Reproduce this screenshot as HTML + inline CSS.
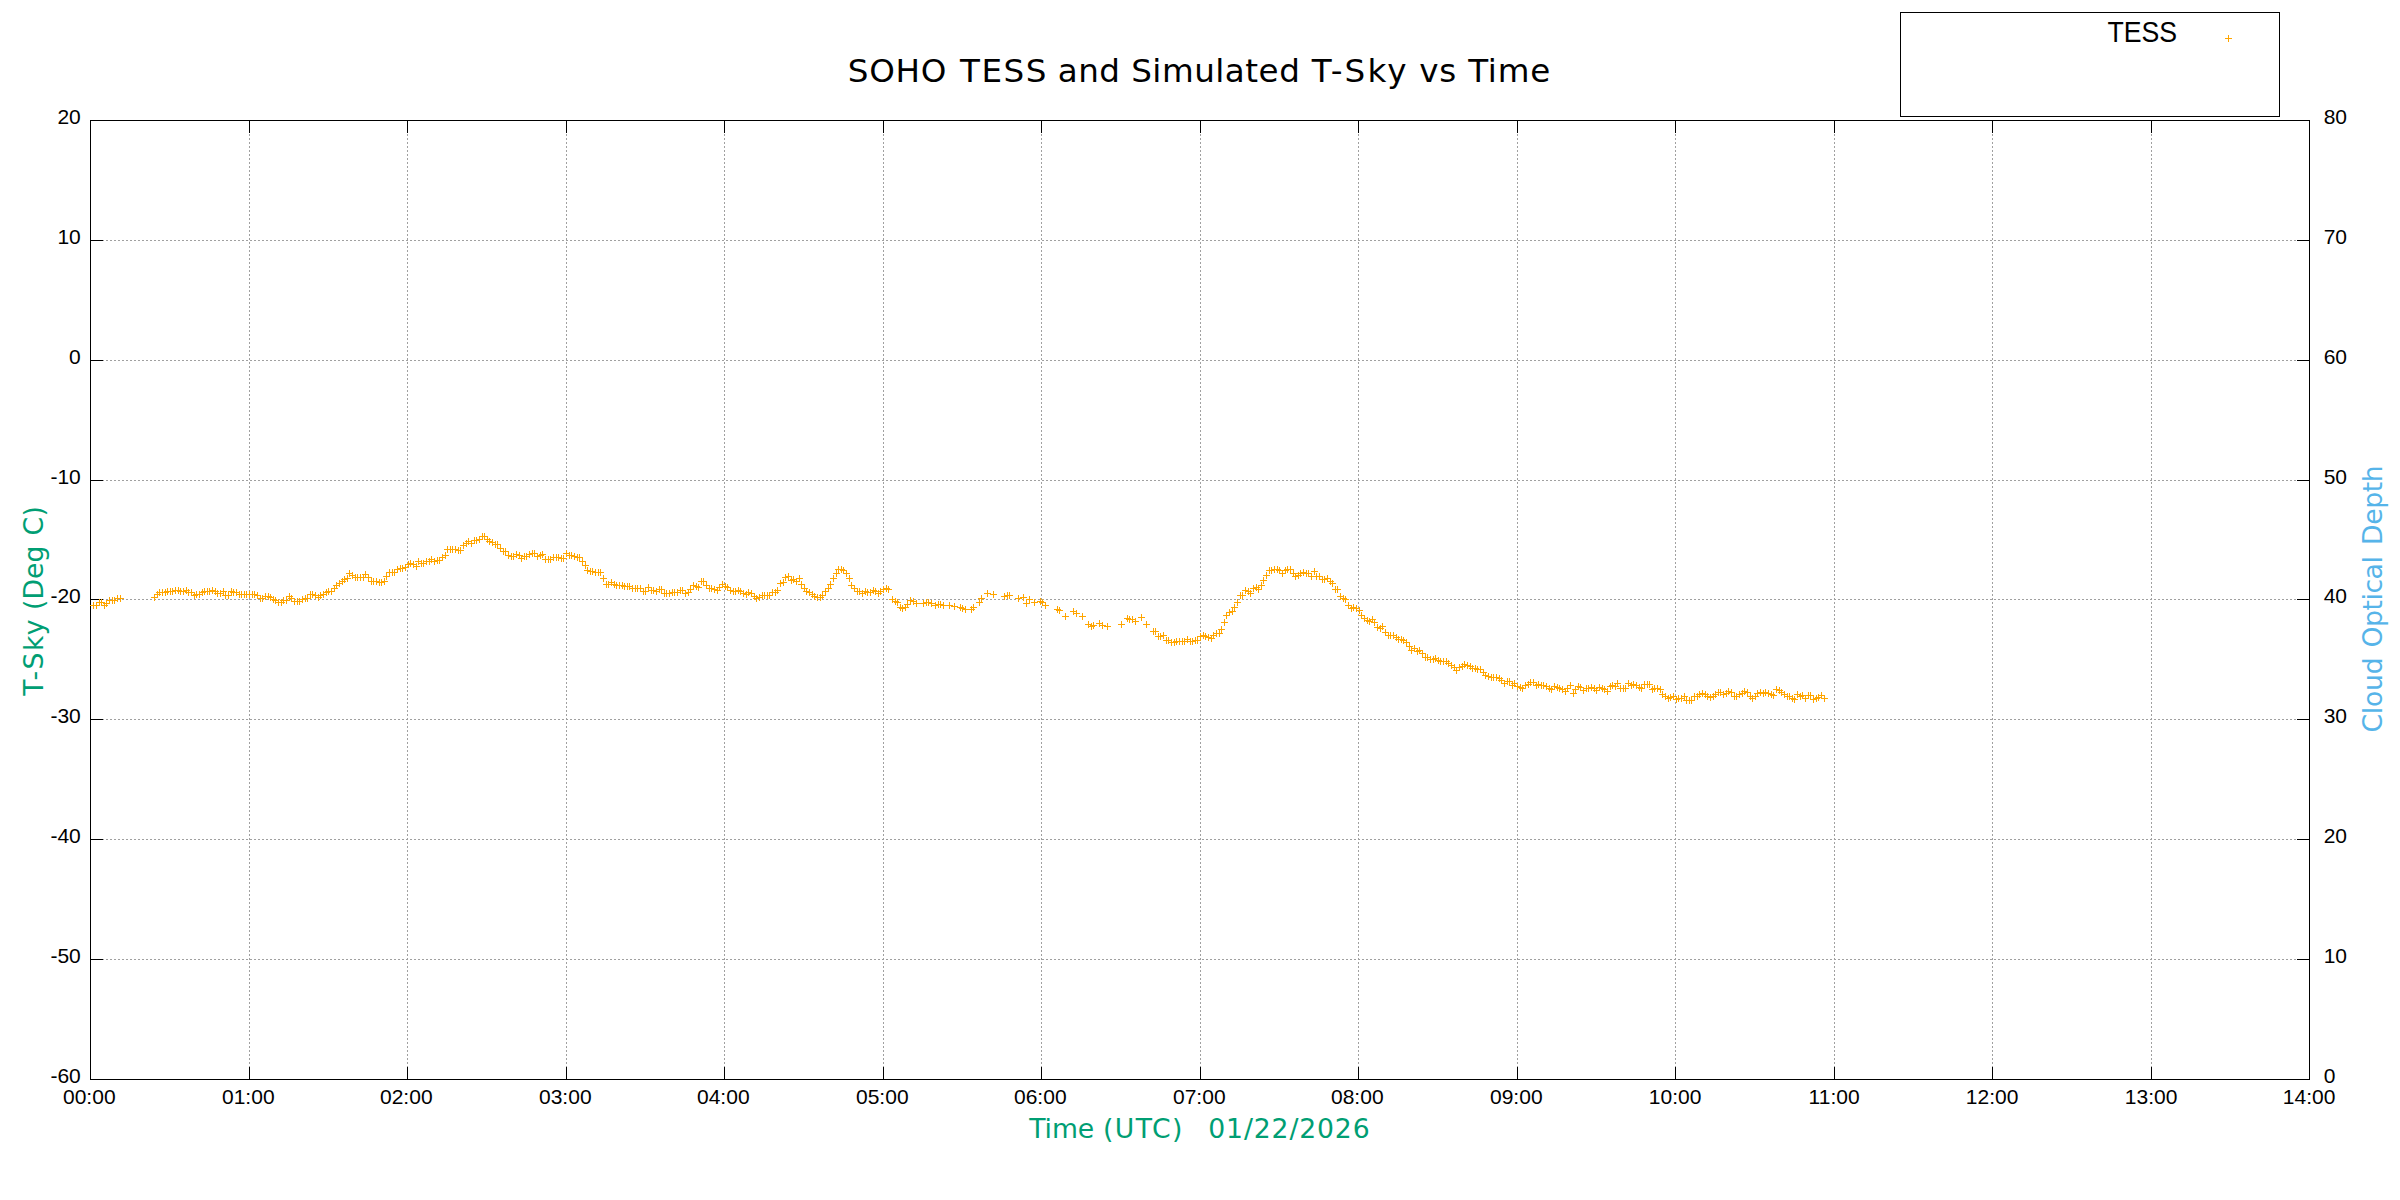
<!DOCTYPE html>
<html lang="en"><head><meta charset="utf-8"><title>SOHO TESS and Simulated T-Sky vs Time</title>
<style>
html,body{margin:0;padding:0;background:#fff;}
body{width:2400px;height:1200px;overflow:hidden;}
svg{display:block;}
.t{font-family:"Liberation Sans",Arial,sans-serif;font-size:21.0px;fill:#000;}
.v{font-family:"DejaVu Sans",Verdana,sans-serif;}
</style></head><body>
<svg width="2400" height="1200" viewBox="0 0 2400 1200">
<rect width="2400" height="1200" fill="#fff"/>
<path d="M90 240.5 H2310 M90 360.5 H2310 M90 480.5 H2310 M90 599.5 H2310 M90 719.5 H2310 M90 839.5 H2310 M90 959.5 H2310 M249.5 1080 V120 M407.5 1080 V120 M566.5 1080 V120 M724.5 1080 V120 M883.5 1080 V120 M1041.5 1080 V120 M1200.5 1080 V120 M1358.5 1080 V120 M1517.5 1080 V120 M1675.5 1080 V120 M1834.5 1080 V120 M1992.5 1080 V120 M2151.5 1080 V120" fill="none" stroke="#a0a0a0" stroke-width="1" stroke-dasharray="2 2" shape-rendering="crispEdges"/>
<path d="M90 240.5 h13 M2310 240.5 h-13 M90 360.5 h13 M2310 360.5 h-13 M90 480.5 h13 M2310 480.5 h-13 M90 599.5 h13 M2310 599.5 h-13 M90 719.5 h13 M2310 719.5 h-13 M90 839.5 h13 M2310 839.5 h-13 M90 959.5 h13 M2310 959.5 h-13 M249.5 120 v13 M249.5 1080 v-13 M407.5 120 v13 M407.5 1080 v-13 M566.5 120 v13 M566.5 1080 v-13 M724.5 120 v13 M724.5 1080 v-13 M883.5 120 v13 M883.5 1080 v-13 M1041.5 120 v13 M1041.5 1080 v-13 M1200.5 120 v13 M1200.5 1080 v-13 M1358.5 120 v13 M1358.5 1080 v-13 M1517.5 120 v13 M1517.5 1080 v-13 M1675.5 120 v13 M1675.5 1080 v-13 M1834.5 120 v13 M1834.5 1080 v-13 M1992.5 120 v13 M1992.5 1080 v-13 M2151.5 120 v13 M2151.5 1080 v-13" fill="none" stroke="#000" stroke-width="1" shape-rendering="crispEdges"/>
<rect x="90.5" y="120.5" width="2219" height="959" fill="none" stroke="#000" stroke-width="1" shape-rendering="crispEdges"/>
<rect x="1900.5" y="12.5" width="379" height="104" fill="none" stroke="#000" stroke-width="1" shape-rendering="crispEdges"/>
<path d="M90 605.5h7M93.5 602v7M93 605.5h7M96.5 602v7M96 602.5h7M99.5 599v7M98 602.5h7M101.5 599v7M101 605.5h7M104.5 602v7M103 603.5h7M106.5 600v7M106 600.5h7M109.5 597v7M109 600.5h7M112.5 597v7M111 600.5h7M114.5 597v7M114 598.5h7M117.5 595v7M117 598.5h7M120.5 595v7M151 597.5h7M154.5 594v7M154 594.5h7M157.5 591v7M156 592.5h7M159.5 589v7M159 592.5h7M162.5 589v7M162 592.5h7M165.5 589v7M164 591.5h7M167.5 588v7M167 591.5h7M170.5 588v7M169 591.5h7M172.5 588v7M172 590.5h7M175.5 587v7M175 590.5h7M178.5 587v7M177 591.5h7M180.5 588v7M180 591.5h7M183.5 588v7M183 590.5h7M186.5 587v7M185 592.5h7M188.5 589v7M188 592.5h7M191.5 589v7M191 595.5h7M194.5 592v7M193 594.5h7M196.5 591v7M196 594.5h7M199.5 591v7M199 592.5h7M202.5 589v7M201 591.5h7M204.5 588v7M204 591.5h7M207.5 588v7M206 591.5h7M209.5 588v7M209 590.5h7M212.5 587v7M212 591.5h7M215.5 588v7M214 593.5h7M217.5 590v7M217 593.5h7M220.5 590v7M220 591.5h7M223.5 588v7M222 595.5h7M225.5 592v7M225 595.5h7M228.5 592v7M228 591.5h7M231.5 588v7M230 592.5h7M233.5 589v7M233 592.5h7M236.5 589v7M236 594.5h7M239.5 591v7M238 594.5h7M241.5 591v7M241 594.5h7M244.5 591v7M243 594.5h7M246.5 591v7M246 594.5h7M249.5 591v7M249 594.5h7M252.5 591v7M251 594.5h7M254.5 591v7M254 595.5h7M257.5 592v7M257 598.5h7M260.5 595v7M259 598.5h7M262.5 595v7M262 596.5h7M265.5 593v7M265 596.5h7M268.5 593v7M267 597.5h7M270.5 594v7M270 599.5h7M273.5 596v7M272 600.5h7M275.5 597v7M275 602.5h7M278.5 599v7M278 602.5h7M281.5 599v7M280 600.5h7M283.5 597v7M283 600.5h7M286.5 597v7M286 596.5h7M289.5 593v7M288 598.5h7M291.5 595v7M291 601.5h7M294.5 598v7M294 601.5h7M297.5 598v7M296 601.5h7M299.5 598v7M299 599.5h7M302.5 596v7M302 598.5h7M305.5 595v7M304 598.5h7M307.5 595v7M307 594.5h7M310.5 591v7M309 594.5h7M312.5 591v7M312 595.5h7M315.5 592v7M315 597.5h7M318.5 594v7M317 595.5h7M320.5 592v7M320 594.5h7M323.5 591v7M323 592.5h7M326.5 589v7M325 591.5h7M328.5 588v7M328 591.5h7M331.5 588v7M331 588.5h7M334.5 585v7M333 585.5h7M336.5 582v7M336 583.5h7M339.5 580v7M339 581.5h7M342.5 578v7M341 579.5h7M344.5 576v7M344 578.5h7M347.5 575v7M346 573.5h7M349.5 570v7M349 575.5h7M352.5 572v7M352 577.5h7M355.5 574v7M354 577.5h7M357.5 574v7M357 577.5h7M360.5 574v7M360 577.5h7M363.5 574v7M362 574.5h7M365.5 571v7M365 577.5h7M368.5 574v7M368 581.5h7M371.5 578v7M370 581.5h7M373.5 578v7M373 581.5h7M376.5 578v7M376 582.5h7M379.5 579v7M378 582.5h7M381.5 579v7M381 581.5h7M384.5 578v7M383 576.5h7M386.5 573v7M386 572.5h7M389.5 569v7M389 572.5h7M392.5 569v7M391 572.5h7M394.5 569v7M394 569.5h7M397.5 566v7M397 568.5h7M400.5 565v7M399 568.5h7M402.5 565v7M402 567.5h7M405.5 564v7M405 564.5h7M408.5 561v7M407 563.5h7M410.5 560v7M410 564.5h7M413.5 561v7M413 566.5h7M416.5 563v7M415 561.5h7M418.5 558v7M418 563.5h7M421.5 560v7M420 563.5h7M423.5 560v7M423 561.5h7M426.5 558v7M426 561.5h7M429.5 558v7M428 559.5h7M431.5 556v7M431 561.5h7M434.5 558v7M434 560.5h7M437.5 557v7M436 560.5h7M439.5 557v7M439 557.5h7M442.5 554v7M442 555.5h7M445.5 552v7M444 549.5h7M447.5 546v7M447 549.5h7M450.5 546v7M449 549.5h7M452.5 546v7M452 549.5h7M455.5 546v7M455 550.5h7M458.5 547v7M457 550.5h7M460.5 547v7M460 545.5h7M463.5 542v7M463 543.5h7M466.5 540v7M465 541.5h7M468.5 538v7M468 543.5h7M471.5 540v7M471 540.5h7M474.5 537v7M473 540.5h7M476.5 537v7M476 539.5h7M479.5 536v7M479 536.5h7M482.5 533v7M481 536.5h7M484.5 533v7M484 539.5h7M487.5 536v7M486 541.5h7M489.5 538v7M489 542.5h7M492.5 539v7M492 544.5h7M495.5 541v7M494 544.5h7M497.5 541v7M497 548.5h7M500.5 545v7M500 551.5h7M503.5 548v7M502 551.5h7M505.5 548v7M505 555.5h7M508.5 552v7M508 556.5h7M511.5 553v7M510 556.5h7M513.5 553v7M513 554.5h7M516.5 551v7M516 555.5h7M519.5 552v7M518 558.5h7M521.5 555v7M521 556.5h7M524.5 553v7M523 556.5h7M526.5 553v7M526 554.5h7M529.5 551v7M529 553.5h7M532.5 550v7M531 553.5h7M534.5 550v7M534 556.5h7M537.5 553v7M537 555.5h7M540.5 552v7M539 554.5h7M542.5 551v7M542 559.5h7M545.5 556v7M545 559.5h7M548.5 556v7M547 559.5h7M550.5 556v7M550 557.5h7M553.5 554v7M553 557.5h7M556.5 554v7M555 557.5h7M558.5 554v7M558 558.5h7M561.5 555v7M560 558.5h7M563.5 555v7M563 553.5h7M566.5 550v7M566 555.5h7M569.5 552v7M568 555.5h7M571.5 552v7M571 556.5h7M574.5 553v7M574 557.5h7M577.5 554v7M576 557.5h7M579.5 554v7M579 561.5h7M582.5 558v7M582 565.5h7M585.5 562v7M584 570.5h7M587.5 567v7M587 571.5h7M590.5 568v7M589 571.5h7M592.5 568v7M592 572.5h7M595.5 569v7M595 572.5h7M598.5 569v7M597 572.5h7M600.5 569v7M600 578.5h7M603.5 575v7M603 584.5h7M606.5 581v7M605 584.5h7M608.5 581v7M608 582.5h7M611.5 579v7M611 584.5h7M614.5 581v7M613 585.5h7M616.5 582v7M616 585.5h7M619.5 582v7M619 585.5h7M622.5 582v7M621 586.5h7M624.5 583v7M624 586.5h7M627.5 583v7M626 586.5h7M629.5 583v7M629 588.5h7M632.5 585v7M632 588.5h7M635.5 585v7M634 588.5h7M637.5 585v7M637 588.5h7M640.5 585v7M640 591.5h7M643.5 588v7M642 591.5h7M645.5 588v7M645 587.5h7M648.5 584v7M648 590.5h7M651.5 587v7M650 590.5h7M653.5 587v7M653 591.5h7M656.5 588v7M656 589.5h7M659.5 586v7M658 589.5h7M661.5 586v7M661 593.5h7M664.5 590v7M663 593.5h7M666.5 590v7M666 593.5h7M669.5 590v7M669 592.5h7M672.5 589v7M671 592.5h7M674.5 589v7M674 592.5h7M677.5 589v7M677 590.5h7M680.5 587v7M679 590.5h7M682.5 587v7M682 593.5h7M685.5 590v7M685 592.5h7M688.5 589v7M687 589.5h7M690.5 586v7M690 585.5h7M693.5 582v7M693 586.5h7M696.5 583v7M695 587.5h7M698.5 584v7M698 581.5h7M701.5 578v7M700 581.5h7M703.5 578v7M703 585.5h7M706.5 582v7M706 588.5h7M709.5 585v7M708 588.5h7M711.5 585v7M711 589.5h7M714.5 586v7M714 590.5h7M717.5 587v7M716 587.5h7M719.5 584v7M719 584.5h7M722.5 581v7M722 586.5h7M725.5 583v7M724 587.5h7M727.5 584v7M727 590.5h7M730.5 587v7M730 591.5h7M733.5 588v7M732 591.5h7M735.5 588v7M735 590.5h7M738.5 587v7M737 591.5h7M740.5 588v7M740 593.5h7M743.5 590v7M743 594.5h7M746.5 591v7M745 592.5h7M748.5 589v7M748 593.5h7M751.5 590v7M751 596.5h7M754.5 593v7M753 598.5h7M756.5 595v7M756 597.5h7M759.5 594v7M759 595.5h7M762.5 592v7M761 595.5h7M764.5 592v7M764 595.5h7M767.5 592v7M766 595.5h7M769.5 592v7M769 592.5h7M772.5 589v7M772 592.5h7M775.5 589v7M774 590.5h7M777.5 587v7M777 583.5h7M780.5 580v7M780 582.5h7M783.5 579v7M782 577.5h7M785.5 574v7M785 576.5h7M788.5 573v7M788 580.5h7M791.5 577v7M790 579.5h7M793.5 576v7M793 581.5h7M796.5 578v7M796 578.5h7M799.5 575v7M798 584.5h7M801.5 581v7M801 588.5h7M804.5 585v7M803 591.5h7M806.5 588v7M806 592.5h7M809.5 589v7M809 594.5h7M812.5 591v7M811 596.5h7M814.5 593v7M814 597.5h7M817.5 594v7M817 597.5h7M820.5 594v7M819 595.5h7M822.5 592v7M822 591.5h7M825.5 588v7M825 588.5h7M828.5 585v7M827 584.5h7M830.5 581v7M830 578.5h7M833.5 575v7M833 573.5h7M836.5 570v7M835 569.5h7M838.5 566v7M838 569.5h7M841.5 566v7M840 570.5h7M843.5 567v7M843 573.5h7M846.5 570v7M846 578.5h7M849.5 575v7M848 585.5h7M851.5 582v7M851 588.5h7M854.5 585v7M854 591.5h7M857.5 588v7M856 591.5h7M859.5 588v7M859 593.5h7M862.5 590v7M862 591.5h7M865.5 588v7M864 592.5h7M867.5 589v7M867 592.5h7M870.5 589v7M870 590.5h7M873.5 587v7M872 591.5h7M875.5 588v7M875 593.5h7M878.5 590v7M877 591.5h7M880.5 588v7M880 589.5h7M883.5 586v7M883 588.5h7M886.5 585v7M885 589.5h7M888.5 586v7M889 599.5h7M892.5 596v7M892 601.5h7M895.5 598v7M894 602.5h7M897.5 599v7M897 607.5h7M900.5 604v7M899 608.5h7M902.5 605v7M902 607.5h7M905.5 604v7M904 604.5h7M907.5 601v7M907 600.5h7M910.5 597v7M910 601.5h7M913.5 598v7M913 603.5h7M916.5 600v7M920 603.5h7M923.5 600v7M923 602.5h7M926.5 599v7M925 602.5h7M928.5 599v7M928 603.5h7M931.5 600v7M932 605.5h7M935.5 602v7M935 604.5h7M938.5 601v7M937 604.5h7M940.5 601v7M940 605.5h7M943.5 602v7M946 605.5h7M949.5 602v7M951 606.5h7M954.5 603v7M957 607.5h7M960.5 604v7M959 608.5h7M962.5 605v7M962 609.5h7M965.5 606v7M968 609.5h7M971.5 606v7M970 607.5h7M973.5 604v7M976 602.5h7M979.5 599v7M978 598.5h7M981.5 595v7M984 593.5h7M987.5 590v7M990 594.5h7M993.5 591v7M1001 596.5h7M1004.5 593v7M1004 595.5h7M1007.5 592v7M1006 595.5h7M1009.5 592v7M1015 598.5h7M1018.5 595v7M1020 597.5h7M1023.5 594v7M1023 603.5h7M1026.5 600v7M1026 599.5h7M1029.5 596v7M1031 602.5h7M1034.5 599v7M1037 601.5h7M1040.5 598v7M1039 602.5h7M1042.5 599v7M1042 605.5h7M1045.5 602v7M1054 609.5h7M1057.5 606v7M1056 610.5h7M1059.5 607v7M1062 616.5h7M1065.5 613v7M1070 611.5h7M1073.5 608v7M1073 613.5h7M1076.5 610v7M1079 616.5h7M1082.5 613v7M1085 624.5h7M1088.5 621v7M1088 626.5h7M1091.5 623v7M1090 625.5h7M1093.5 622v7M1096 623.5h7M1099.5 620v7M1099 625.5h7M1102.5 622v7M1104 626.5h7M1107.5 623v7M1118 624.5h7M1121.5 621v7M1124 618.5h7M1127.5 615v7M1126 619.5h7M1129.5 616v7M1129 619.5h7M1132.5 616v7M1132 621.5h7M1135.5 618v7M1138 617.5h7M1141.5 614v7M1143 624.5h7M1146.5 621v7M1150 631.5h7M1153.5 628v7M1152 631.5h7M1155.5 628v7M1155 636.5h7M1158.5 633v7M1157 636.5h7M1160.5 633v7M1160 635.5h7M1163.5 632v7M1163 640.5h7M1166.5 637v7M1165 640.5h7M1168.5 637v7M1168 642.5h7M1171.5 639v7M1171 642.5h7M1174.5 639v7M1173 641.5h7M1176.5 638v7M1176 641.5h7M1179.5 638v7M1179 641.5h7M1182.5 638v7M1181 641.5h7M1184.5 638v7M1184 639.5h7M1187.5 636v7M1187 641.5h7M1190.5 638v7M1189 641.5h7M1192.5 638v7M1192 640.5h7M1195.5 637v7M1194 640.5h7M1197.5 637v7M1197 636.5h7M1200.5 633v7M1200 635.5h7M1203.5 632v7M1202 636.5h7M1205.5 633v7M1205 637.5h7M1208.5 634v7M1208 638.5h7M1211.5 635v7M1210 635.5h7M1213.5 632v7M1213 633.5h7M1216.5 630v7M1216 633.5h7M1219.5 630v7M1218 629.5h7M1221.5 626v7M1221 622.5h7M1224.5 619v7M1223 615.5h7M1226.5 612v7M1226 612.5h7M1229.5 609v7M1229 611.5h7M1232.5 608v7M1231 607.5h7M1234.5 604v7M1234 602.5h7M1237.5 599v7M1237 595.5h7M1240.5 592v7M1239 595.5h7M1242.5 592v7M1242 590.5h7M1245.5 587v7M1245 591.5h7M1248.5 588v7M1247 593.5h7M1250.5 590v7M1250 588.5h7M1253.5 585v7M1253 587.5h7M1256.5 584v7M1255 589.5h7M1258.5 586v7M1258 585.5h7M1261.5 582v7M1260 580.5h7M1263.5 577v7M1263 575.5h7M1266.5 572v7M1266 570.5h7M1269.5 567v7M1268 570.5h7M1271.5 567v7M1271 569.5h7M1274.5 566v7M1274 569.5h7M1277.5 566v7M1276 570.5h7M1279.5 567v7M1279 573.5h7M1282.5 570v7M1282 570.5h7M1285.5 567v7M1284 569.5h7M1287.5 566v7M1287 569.5h7M1290.5 566v7M1290 573.5h7M1293.5 570v7M1292 576.5h7M1295.5 573v7M1295 575.5h7M1298.5 572v7M1297 573.5h7M1300.5 570v7M1300 572.5h7M1303.5 569v7M1303 573.5h7M1306.5 570v7M1305 573.5h7M1308.5 570v7M1308 576.5h7M1311.5 573v7M1311 571.5h7M1314.5 568v7M1313 576.5h7M1316.5 573v7M1316 576.5h7M1319.5 573v7M1319 579.5h7M1322.5 576v7M1321 579.5h7M1324.5 576v7M1324 578.5h7M1327.5 575v7M1327 581.5h7M1330.5 578v7M1329 583.5h7M1332.5 580v7M1332 589.5h7M1335.5 586v7M1334 589.5h7M1337.5 586v7M1337 596.5h7M1340.5 593v7M1340 598.5h7M1343.5 595v7M1342 599.5h7M1345.5 596v7M1345 605.5h7M1348.5 602v7M1348 608.5h7M1351.5 605v7M1350 607.5h7M1353.5 604v7M1353 608.5h7M1356.5 605v7M1356 610.5h7M1359.5 607v7M1358 615.5h7M1361.5 612v7M1361 618.5h7M1364.5 615v7M1364 620.5h7M1367.5 617v7M1366 621.5h7M1369.5 618v7M1369 619.5h7M1372.5 616v7M1371 622.5h7M1374.5 619v7M1374 627.5h7M1377.5 624v7M1377 628.5h7M1380.5 625v7M1379 626.5h7M1382.5 623v7M1382 632.5h7M1385.5 629v7M1385 635.5h7M1388.5 632v7M1387 635.5h7M1390.5 632v7M1390 635.5h7M1393.5 632v7M1393 637.5h7M1396.5 634v7M1395 639.5h7M1398.5 636v7M1398 639.5h7M1401.5 636v7M1400 640.5h7M1403.5 637v7M1403 642.5h7M1406.5 639v7M1406 646.5h7M1409.5 643v7M1408 650.5h7M1411.5 647v7M1411 648.5h7M1414.5 645v7M1414 651.5h7M1417.5 648v7M1416 650.5h7M1419.5 647v7M1419 653.5h7M1422.5 650v7M1422 657.5h7M1425.5 654v7M1424 657.5h7M1427.5 654v7M1427 659.5h7M1430.5 656v7M1430 659.5h7M1433.5 656v7M1432 658.5h7M1435.5 655v7M1435 660.5h7M1438.5 657v7M1437 661.5h7M1440.5 658v7M1440 661.5h7M1443.5 658v7M1443 661.5h7M1446.5 658v7M1445 663.5h7M1448.5 660v7M1448 665.5h7M1451.5 662v7M1451 667.5h7M1454.5 664v7M1453 670.5h7M1456.5 667v7M1456 667.5h7M1459.5 664v7M1459 666.5h7M1462.5 663v7M1461 664.5h7M1464.5 661v7M1464 665.5h7M1467.5 662v7M1467 666.5h7M1470.5 663v7M1469 668.5h7M1472.5 665v7M1472 668.5h7M1475.5 665v7M1474 669.5h7M1477.5 666v7M1477 669.5h7M1480.5 666v7M1480 672.5h7M1483.5 669v7M1482 675.5h7M1485.5 672v7M1485 676.5h7M1488.5 673v7M1488 677.5h7M1491.5 674v7M1490 677.5h7M1493.5 674v7M1493 677.5h7M1496.5 674v7M1496 678.5h7M1499.5 675v7M1498 680.5h7M1501.5 677v7M1501 683.5h7M1504.5 680v7M1504 681.5h7M1507.5 678v7M1506 681.5h7M1509.5 678v7M1509 685.5h7M1512.5 682v7M1511 683.5h7M1514.5 680v7M1514 686.5h7M1517.5 683v7M1517 687.5h7M1520.5 684v7M1519 688.5h7M1522.5 685v7M1522 685.5h7M1525.5 682v7M1525 684.5h7M1528.5 681v7M1527 682.5h7M1530.5 679v7M1530 682.5h7M1533.5 679v7M1533 685.5h7M1536.5 682v7M1535 684.5h7M1538.5 681v7M1538 685.5h7M1541.5 682v7M1540 685.5h7M1543.5 682v7M1543 686.5h7M1546.5 683v7M1546 688.5h7M1549.5 685v7M1548 689.5h7M1551.5 686v7M1551 686.5h7M1554.5 683v7M1554 687.5h7M1557.5 684v7M1556 688.5h7M1559.5 685v7M1559 689.5h7M1562.5 686v7M1562 691.5h7M1565.5 688v7M1564 688.5h7M1567.5 685v7M1567 685.5h7M1570.5 682v7M1570 693.5h7M1573.5 690v7M1572 689.5h7M1575.5 686v7M1575 686.5h7M1578.5 683v7M1577 687.5h7M1580.5 684v7M1580 690.5h7M1583.5 687v7M1583 688.5h7M1586.5 685v7M1585 688.5h7M1588.5 685v7M1588 687.5h7M1591.5 684v7M1591 688.5h7M1594.5 685v7M1593 690.5h7M1596.5 687v7M1596 687.5h7M1599.5 684v7M1599 688.5h7M1602.5 685v7M1601 689.5h7M1604.5 686v7M1604 691.5h7M1607.5 688v7M1607 686.5h7M1610.5 683v7M1609 685.5h7M1612.5 682v7M1612 686.5h7M1615.5 683v7M1614 683.5h7M1617.5 680v7M1617 688.5h7M1620.5 685v7M1620 688.5h7M1623.5 685v7M1622 688.5h7M1625.5 685v7M1625 683.5h7M1628.5 680v7M1628 685.5h7M1631.5 682v7M1630 684.5h7M1633.5 681v7M1633 685.5h7M1636.5 682v7M1636 687.5h7M1639.5 684v7M1638 688.5h7M1641.5 685v7M1641 684.5h7M1644.5 681v7M1644 684.5h7M1647.5 681v7M1646 684.5h7M1649.5 681v7M1649 689.5h7M1652.5 686v7M1651 688.5h7M1654.5 685v7M1654 688.5h7M1657.5 685v7M1657 689.5h7M1660.5 686v7M1659 694.5h7M1662.5 691v7M1662 696.5h7M1665.5 693v7M1665 698.5h7M1668.5 695v7M1667 697.5h7M1670.5 694v7M1670 696.5h7M1673.5 693v7M1673 699.5h7M1676.5 696v7M1675 698.5h7M1678.5 695v7M1678 698.5h7M1681.5 695v7M1681 696.5h7M1684.5 693v7M1683 700.5h7M1686.5 697v7M1686 700.5h7M1689.5 697v7M1688 700.5h7M1691.5 697v7M1691 696.5h7M1694.5 693v7M1694 696.5h7M1697.5 693v7M1696 694.5h7M1699.5 691v7M1699 693.5h7M1702.5 690v7M1702 694.5h7M1705.5 691v7M1704 696.5h7M1707.5 693v7M1707 697.5h7M1710.5 694v7M1710 696.5h7M1713.5 693v7M1712 694.5h7M1715.5 691v7M1715 692.5h7M1718.5 689v7M1717 692.5h7M1720.5 689v7M1720 694.5h7M1723.5 691v7M1723 693.5h7M1726.5 690v7M1725 691.5h7M1728.5 688v7M1728 692.5h7M1731.5 689v7M1731 696.5h7M1734.5 693v7M1733 696.5h7M1736.5 693v7M1736 694.5h7M1739.5 691v7M1739 693.5h7M1742.5 690v7M1741 691.5h7M1744.5 688v7M1744 692.5h7M1747.5 689v7M1747 696.5h7M1750.5 693v7M1749 698.5h7M1752.5 695v7M1752 696.5h7M1755.5 693v7M1754 693.5h7M1757.5 690v7M1757 692.5h7M1760.5 689v7M1760 693.5h7M1763.5 690v7M1762 692.5h7M1765.5 689v7M1765 693.5h7M1768.5 690v7M1768 694.5h7M1771.5 691v7M1770 695.5h7M1773.5 692v7M1773 689.5h7M1776.5 686v7M1776 690.5h7M1779.5 687v7M1778 692.5h7M1781.5 689v7M1781 694.5h7M1784.5 691v7M1784 696.5h7M1787.5 693v7M1786 696.5h7M1789.5 693v7M1789 698.5h7M1792.5 695v7M1791 699.5h7M1794.5 696v7M1794 694.5h7M1797.5 691v7M1797 696.5h7M1800.5 693v7M1799 695.5h7M1802.5 692v7M1802 698.5h7M1805.5 695v7M1805 695.5h7M1808.5 692v7M1807 695.5h7M1810.5 692v7M1810 699.5h7M1813.5 696v7M1813 698.5h7M1816.5 695v7M1815 697.5h7M1818.5 694v7M1818 695.5h7M1821.5 692v7M1821 698.5h7M1824.5 695v7M2225 38.5h7M2228.5 35v7" fill="none" stroke="#ffa500" stroke-width="1" shape-rendering="crispEdges"/>
<g class="t" text-anchor="end">
<text x="80.8" y="124.0">20</text>
<text x="80.8" y="244.0">10</text>
<text x="80.8" y="364.0">0</text>
<text x="80.8" y="484.0">-10</text>
<text x="80.8" y="603.0">-20</text>
<text x="80.8" y="723.0">-30</text>
<text x="80.8" y="843.0">-40</text>
<text x="80.8" y="963.0">-50</text>
<text x="80.8" y="1083.0">-60</text>
</g>
<g class="t" text-anchor="start">
<text x="2323.7" y="124.0">80</text>
<text x="2323.7" y="244.0">70</text>
<text x="2323.7" y="364.0">60</text>
<text x="2323.7" y="484.0">50</text>
<text x="2323.7" y="603.0">40</text>
<text x="2323.7" y="723.0">30</text>
<text x="2323.7" y="843.0">20</text>
<text x="2323.7" y="963.0">10</text>
<text x="2323.7" y="1083.0">0</text>
</g>
<g class="t" text-anchor="middle">
<text x="89.3" y="1104">00:00</text>
<text x="248.3" y="1104">01:00</text>
<text x="406.3" y="1104">02:00</text>
<text x="565.3" y="1104">03:00</text>
<text x="723.3" y="1104">04:00</text>
<text x="882.3" y="1104">05:00</text>
<text x="1040.3" y="1104">06:00</text>
<text x="1199.3" y="1104">07:00</text>
<text x="1357.3" y="1104">08:00</text>
<text x="1516.3" y="1104">09:00</text>
<text x="1675.1" y="1104">10:00</text>
<text x="1834.1" y="1104">11:00</text>
<text x="1992.1" y="1104">12:00</text>
<text x="2151.1" y="1104">13:00</text>
<text x="2309.1" y="1104">14:00</text>
</g>
<text transform="translate(2177.1 42) scale(1 1.09)" text-anchor="end" style="font-family:'Liberation Sans',Arial,sans-serif;font-size:26.67px" fill="#000">TESS</text>
<text class="v" y="81.7" font-size="32.6" fill="#000"><tspan x="847.75" letter-spacing="0.75">SOHO</tspan> <tspan x="960.0" letter-spacing="1.567">TESS</tspan> <tspan x="1057.7" letter-spacing="0.5">and</tspan> <tspan x="1131.2" letter-spacing="0.5">Simulated</tspan> <tspan x="1311.7" letter-spacing="2.125">T-Sky</tspan> <tspan x="1419.2" letter-spacing="0.8">vs</tspan> <tspan x="1468.2" letter-spacing="0.767">Time</tspan></text>
<text class="v" y="1138" font-size="26.67" fill="#009e73" xml:space="preserve" style="white-space:pre"><tspan x="1029.2" letter-spacing="-0.067">Time</tspan> <tspan x="1103.0" letter-spacing="1.425">(UTC)</tspan>   <tspan x="1208.3" letter-spacing="0.856">01/22/2026</tspan></text>
<text class="v" transform="translate(43 0) rotate(-90)" y="0" font-size="26.67" fill="#009e73"><tspan x="-695.8" letter-spacing="1.45">T-Sky</tspan> <tspan x="-610.0" letter-spacing="0.067">(Deg</tspan> <tspan x="-535.5" letter-spacing="0.5">C)</tspan></text>
<text class="v" transform="translate(2382.3 0) rotate(-90)" y="0" font-size="26.67" fill="#56b4e9"><tspan x="-732.6" letter-spacing="-0.225">Cloud</tspan> <tspan x="-647.5" letter-spacing="-0.467">Optical</tspan> <tspan x="-545.0" letter-spacing="-0.375">Depth</tspan></text>
</svg>
</body></html>
